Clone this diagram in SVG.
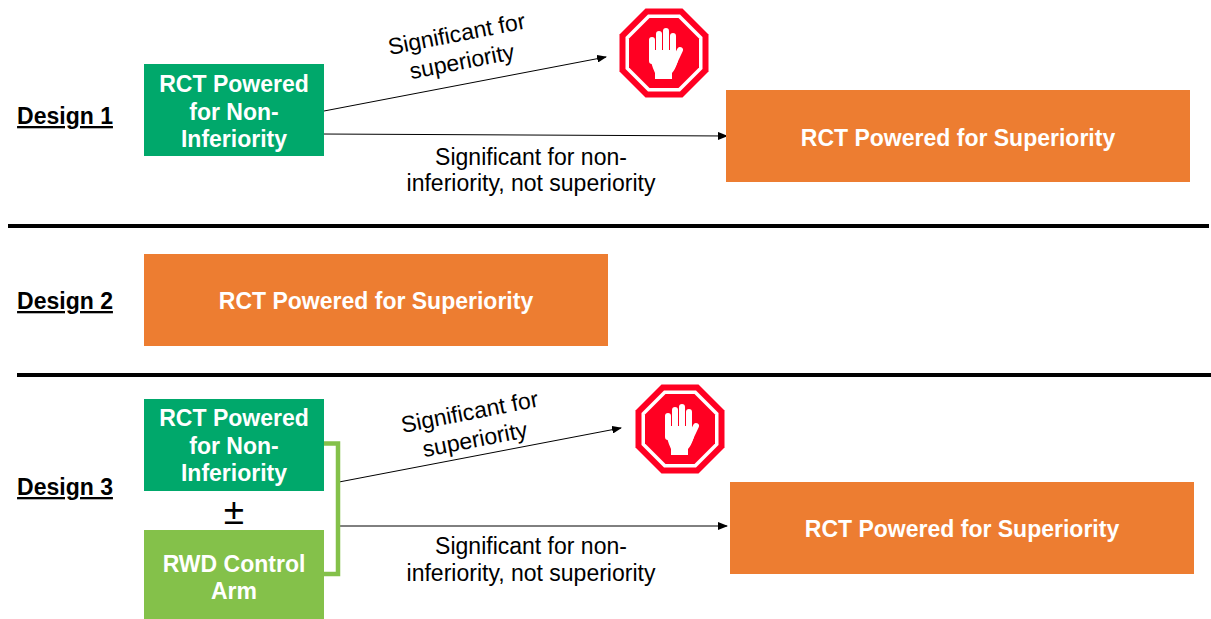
<svg xmlns="http://www.w3.org/2000/svg" width="1211" height="619" viewBox="0 0 1211 619">
<style>
text{font-family:"Liberation Sans",Arial,sans-serif}
.w{fill:#fff;font-weight:700;font-size:23px;text-anchor:middle}
.d{fill:#000;font-weight:700;font-size:23px;text-decoration:underline;text-anchor:middle}
.l{fill:#000;font-size:23px;text-anchor:middle}
.c{stroke:#000;stroke-width:1;fill:none;marker-end:url(#a)}
.o{fill:#ed7d31}.g{fill:#00a86b}.lg{fill:#84c14a}
</style>
<defs>
<marker id="a" markerUnits="userSpaceOnUse" markerWidth="10" markerHeight="8" refX="9" refY="4" orient="auto"><path d="M0 0L10 4L0 8z" fill="#000"/></marker>
<g id="stop"><polygon points="-18.500,-44.500 18.500,-44.500 44.500,-18.500 44.500,18.500 18.500,44.500 -18.500,44.500 -44.500,18.500 -44.500,-18.500" fill="#ff0022"/><polygon points="-16,-38.500 16,-38.500 38.500,-16 38.500,16 16,38.500 -16,38.500 -38.500,16 -38.500,-16" fill="#fff"/><polygon points="-14.500,-35 14.500,-35 35,-14.500 35,14.500 14.500,35 -14.500,35 -35,14.500 -35,-14.500" fill="#ff0022"/><path d="M-12 8V-13M-5 4V-19M2 4V-22M9 6V-17M8 14L16 -3" fill="none" stroke="#fff" stroke-width="6" stroke-linecap="round"/><path d="M-15 -2L-13 9Q-11 16 -9 20V26H8V20Q11 17 14 8L12 -3H-12Z" fill="#fff"/></g>
</defs>
<g id="dividers"><rect x="8" y="224" width="1201" height="4" fill="#000"/><rect x="17" y="373" width="1194" height="4" fill="#000"/></g>
<g id="connectors">
<path class="c" d="M324 111L606 57"/>
<path class="c" d="M321 134L727 136"/>
<path class="c" d="M339 482L621 428"/>
<path class="c" d="M339 526L727 526"/>
<path d="M323 443.500H338V574H323" fill="none" stroke="#84c14a" stroke-width="4.500"/>
</g>
<g id="labels">
<text class="d" x="65" y="124">Design 1</text><text class="d" x="65" y="309">Design 2</text><text class="d" x="65" y="495">Design 3</text>
<g transform="rotate(-11 457 52)"><text class="l" x="460" y="42">Significant for</text><text class="l" x="460" y="70">superiority</text></g>
<g transform="rotate(-11 470 430)"><text class="l" x="473" y="420">Significant for</text><text class="l" x="473" y="448">superiority</text></g>
<text class="l" x="531" y="165">Significant for non-</text><text class="l" x="531" y="191">inferiority, not superiority</text>
<text class="l" x="531" y="554">Significant for non-</text><text class="l" x="531" y="581">inferiority, not superiority</text>
</g>
<g id="n1"><rect class="g" x="144" y="64" width="180" height="92"/><text class="w" x="234" y="92">RCT Powered</text><text class="w" x="234" y="120">for Non-</text><text class="w" x="234" y="147">Inferiority</text></g>
<g id="n2"><rect class="o" x="726" y="90" width="464" height="92"/><text class="w" x="958" y="146">RCT Powered for Superiority</text></g>
<g id="n3"><rect class="o" x="144" y="254" width="464" height="92"/><text class="w" x="376" y="309">RCT Powered for Superiority</text></g>
<g id="n4"><rect class="g" x="144" y="399" width="180" height="92"/><text class="w" x="234" y="426">RCT Powered</text><text class="w" x="234" y="454">for Non-</text><text class="w" x="234" y="481">Inferiority</text></g>
<g id="n5"><rect class="lg" x="144" y="530" width="180" height="89"/><text class="w" x="234" y="572">RWD Control</text><text class="w" x="234" y="599">Arm</text></g>
<g id="n6"><rect class="o" x="730" y="482" width="464" height="92"/><text class="w" x="962" y="537">RCT Powered for Superiority</text></g>
<g id="plusminus"><text x="234" y="524" font-size="37" text-anchor="middle" fill="#000">±</text></g>
<g id="stop1"><use href="#stop" x="664" y="53"/></g>
<g id="stop2"><use href="#stop" x="680" y="429"/></g>
</svg>
